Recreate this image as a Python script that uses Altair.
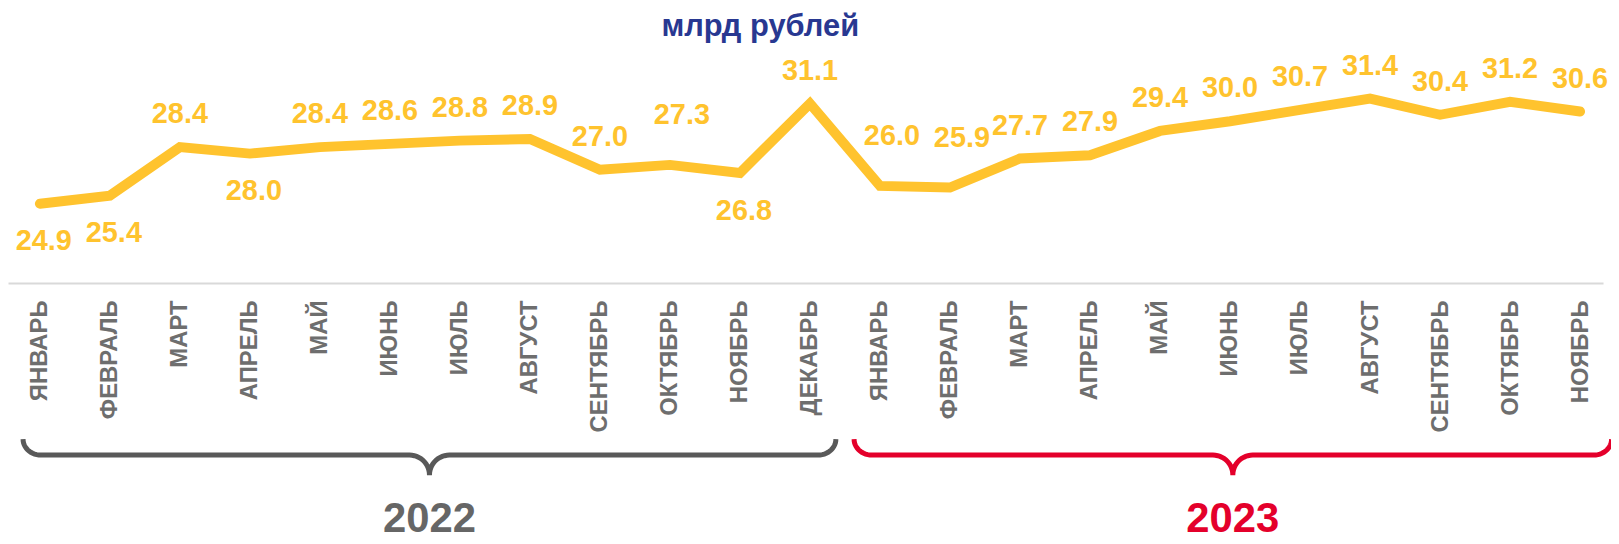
import json
import numpy as np
import pandas as pd
import altair as alt

# ---------------- data ----------------
months = ["ЯНВАРЬ", "ФЕВРАЛЬ", "МАРТ", "АПРЕЛЬ", "МАЙ", "ИЮНЬ", "ИЮЛЬ", "АВГУСТ",
          "СЕНТЯБРЬ", "ОКТЯБРЬ", "НОЯБРЬ", "ДЕКАБРЬ",
          "ЯНВАРЬ", "ФЕВРАЛЬ", "МАРТ", "АПРЕЛЬ", "МАЙ", "ИЮНЬ", "ИЮЛЬ", "АВГУСТ",
          "СЕНТЯБРЬ", "ОКТЯБРЬ", "НОЯБРЬ"]
values_2022 = [24.9, 25.4, 28.4, 28.0, 28.4, 28.6, 28.8, 28.9, 27.0, 27.3, 26.8, 31.1]
values_2023 = [26.0, 25.9, 27.7, 27.9, 29.4, 30.0, 30.7, 31.4, 30.4, 31.2, 30.6]
years = ["2022", "2023"]
title_text = "млрд рублей"
labels_below = [0, 1, 3, 10]   # value label sits under the line
labels_high = [9, 12, 13]      # value label lifted higher above the line

# ---------------- style ----------------
FONT = "Liberation Sans"
YELLOW = "#FFC32E"
AXIS_GRAY = "#6E6E6E"
BRACE_GRAY = "#595959"
TEXT_GRAY = "#666666"
RED = "#E4002B"
NAVY = "#283891"

W, H = 1603, 275
X_DOM = [-0.455, 22.328]
Y_DOM = [20.0, 36.92]
K = W / (X_DOM[1] - X_DOM[0])    # px per month step

values = values_2022 + values_2023
year_of = [years[0]] * len(values_2022) + [years[1]] * len(values_2023)


def side(i):
    if i in labels_below:
        return "below"
    if i in labels_high:
        return "high"
    return "above"


df = pd.DataFrame({
    "idx": list(range(len(values))),
    "month": months,
    "value": values,
    "year": year_of,
    "side": [side(i) for i in range(len(values))],
})

# ---------------- braces (shape built from month index span) ----------------
def brace(L, R, year):
    Lp, Rp = L * K, R * K
    Cp = (Lp + Rp) / 2
    rx, ry = 18.0, 16.0      # arm curve
    crx, cry = 20.0, 20.0    # cusp curve
    t = np.linspace(0, np.pi / 2, 14)
    xs, ys = [], []
    xs += list(Lp + rx - rx * np.cos(t)); ys += list(ry * np.sin(t))
    xs += list(Cp - crx + crx * np.sin(t)); ys += list(ry + cry - cry * np.cos(t))
    t2 = t[::-1]
    xs += list(Cp + crx - crx * np.sin(t2)); ys += list(ry + cry - cry * np.cos(t2))
    xs += list(Rp - rx + rx * np.cos(t2)); ys += list(ry * np.sin(t2))
    return pd.DataFrame({"bx": np.array(xs) / K, "by": ys,
                         "order": range(len(xs)), "year": year})

n22 = len(values_2022)
split = n22 - 0.5
gap = 0.13
b22 = (-0.24, split - gap)
b23 = (split + gap, len(values) - 1 + 0.45)
brace_df = pd.concat([brace(*b22, years[0]), brace(*b23, years[1])])
year_df = pd.DataFrame({"year": years, "cx": [sum(b22) / 2, sum(b23) / 2]})

# ---------------- chart ----------------
x_scale = alt.Scale(domain=X_DOM, nice=False, zero=False)
y_scale = alt.Scale(domain=Y_DOM, nice=False, zero=False)
label_expr = json.dumps(months, ensure_ascii=False) + "[datum.value]"
x_enc = alt.X(
    "idx:Q",
    scale=x_scale,
    axis=alt.Axis(
        values=list(range(len(values))), labelExpr=label_expr, labelAngle=-90,
        labelFont=FONT, labelFontSize=24, labelFontWeight="bold", labelColor=AXIS_GRAY,
        labelPadding=17, ticks=False, grid=False, domainColor="#D9D9D9", domainWidth=2,
        labelOverlap=False, labelFlush=False, title=None,
    ),
)
y_enc = alt.Y("value:Q", scale=y_scale, axis=None)

base = alt.Chart(df)
line = base.mark_line(color=YELLOW, strokeWidth=10, strokeCap="round",
                      strokeJoin="miter").encode(x=x_enc, y=y_enc)


def value_labels(which, dx, dy):
    return base.transform_filter(f"datum.side == '{which}'").mark_text(
        font=FONT, fontSize=29, fontWeight="bold", color=YELLOW,
        dx=dx, dy=dy, baseline="middle"
    ).encode(x=alt.X("idx:Q", scale=x_scale), y=y_enc,
             text=alt.Text("value:Q", format=".1f"))


lab_above = value_labels("above", 0, -33)
lab_high = value_labels("high", 12, -50)
lab_below = value_labels("below", 4, 38)

braces = alt.Chart(brace_df).mark_line(strokeWidth=5, strokeCap="butt", clip=False).encode(
    x=alt.X("bx:Q", scale=x_scale),
    y=alt.Y("by:Q", scale=alt.Scale(domain=[0, 36], range=[432, 468], nice=False, zero=False), axis=None),
    order="order:Q",
    detail="year:N",
    color=alt.Color("year:N", scale=alt.Scale(domain=years, range=[BRACE_GRAY, RED]), legend=None),
)
year_text = alt.Chart(year_df).mark_text(
    font=FONT, fontSize=42, fontWeight="bold", baseline="alphabetic", align="center"
).encode(
    x=alt.X("cx:Q", scale=x_scale),
    y=alt.value(525),
    text="year:N",
    color=alt.Color("year:N", scale=alt.Scale(domain=years, range=[TEXT_GRAY, RED]), legend=None),
)
title = alt.Chart(pd.DataFrame({"t": [title_text]})).mark_text(
    font=FONT, fontSize=31, fontWeight="bold", color=NAVY, baseline="alphabetic", align="center"
).encode(text="t:N", x=alt.value(756), y=alt.value(27))

chart = alt.layer(line, lab_above, lab_high, lab_below, braces, year_text, title).resolve_scale(
    y="independent", color="independent"
).properties(
    width=W, height=H,
    autosize=alt.AutoSizeParams(type="none"),
    padding={"left": 0, "top": 0, "right": 8, "bottom": 536 - H},
).configure_view(stroke=None)

chart.save("out.html", embed_options={"renderer": "svg", "actions": False})
